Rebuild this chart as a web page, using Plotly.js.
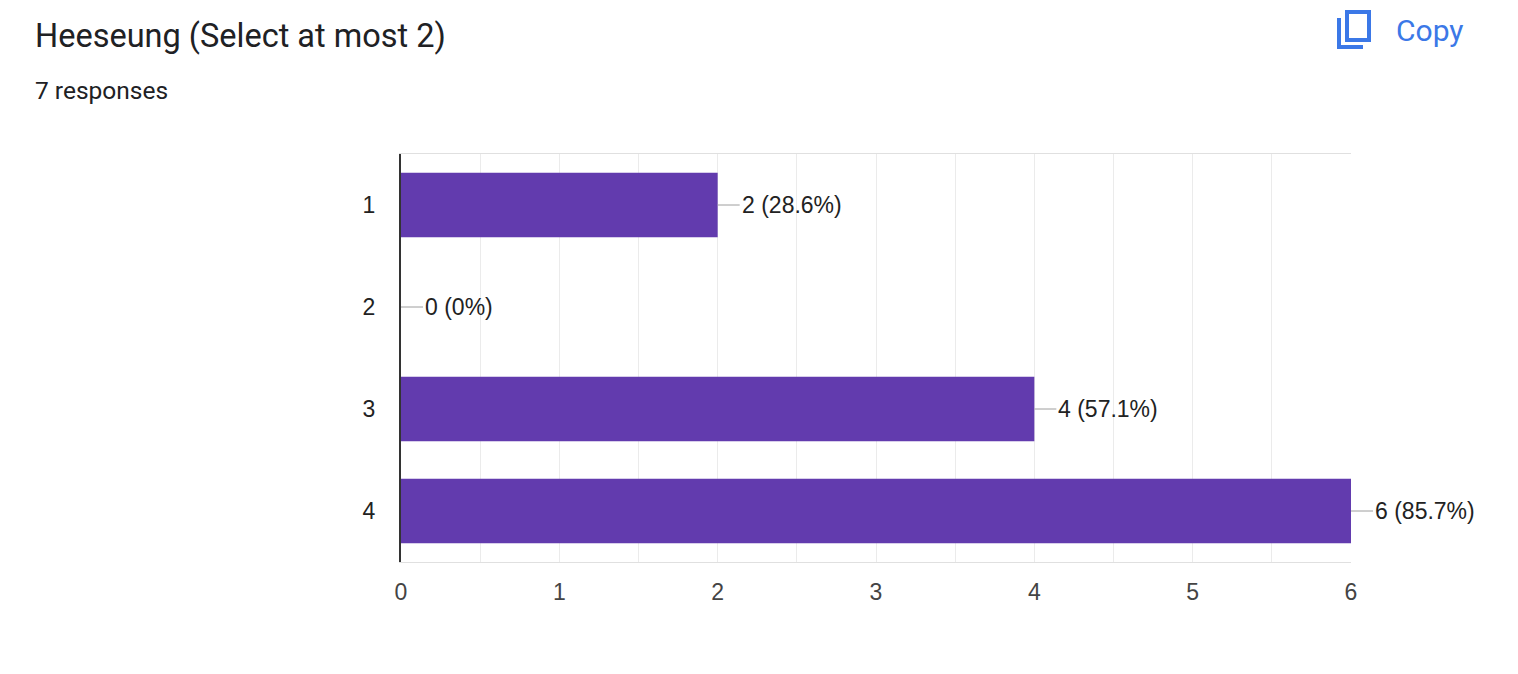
<!DOCTYPE html>
<html>
<head>
<meta charset="utf-8">
<script src="https://cdn.plot.ly/plotly-3.0.1.min.js"></script>
<style>
  html, body {margin:0; padding:0; background:#fff;}
  #chart {width:1518px; height:674px;}
</style>
</head>
<body>
<div id="chart"></div>
<script>
// data
const categories = ["1", "2", "3", "4"];
const counts = [2, 0, 4, 6];
const totalResponses = 7;
const pctLabels = ["28.6%", "0%", "57.1%", "85.7%"];

const W = 1518, H = 674;
const M = {l: 401, r: 167, t: 154, b: 112};
const PURPLE = "#623bae";
const BLUE = "#3b78e7";
const CHART_FONT = "Arial, 'Liberation Sans', sans-serif";

// pixel -> paper helpers for the header bits
const plotW = W - M.l - M.r, plotH = H - M.t - M.b;
const px = x => (x - M.l) / plotW;
const py = y => 1 - (y - M.t) / plotH;

const bars = {
    type: "bar",
    orientation: "h",
    x: counts,
    y: categories,
    marker: {color: PURPLE},
    width: 0.63,
    hoverinfo: "none"
};

// value labels with small leader lines (y is the category index)
const valueNotes = counts.map((c, i) => ({
    x: c, y: i, xref: "x", yref: "y",
    text: `${c} (${pctLabels[i]})`,
    showarrow: true, arrowhead: 0, arrowwidth: 1, arrowcolor: "#9e9e9e",
    ax: 22, ay: 0, xanchor: "left",
    font: {size: 23, family: CHART_FONT, color: "#222"}
}));

const headerNotes = [
    {
        x: px(33), y: py(36), xref: "paper", yref: "paper",
        xanchor: "left", yanchor: "middle", showarrow: false,
        text: "Heeseung (Select at most 2)",
        font: {size: 32.5, family: "Roboto, sans-serif", color: "#202124"}
    },
    {
        x: px(33), y: py(90), xref: "paper", yref: "paper",
        xanchor: "left", yanchor: "middle", showarrow: false,
        text: `${totalResponses} responses`,
        font: {size: 24.5, family: "Roboto, sans-serif", color: "#202124"}
    },
    {
        x: px(1394), y: py(31), xref: "paper", yref: "paper",
        xanchor: "left", yanchor: "middle", showarrow: false,
        text: "Copy",
        font: {size: 30, family: "Roboto, sans-serif", color: BLUE}
    }
];

// copy icon: back "L" and front rounded rectangle
const iconShapes = [
    {type: "path", xref: "paper", yref: "paper",
     path: `M ${px(1339)} ${py(18)} L ${px(1339)} ${py(47)} L ${px(1363)} ${py(47)}`,
     line: {color: BLUE, width: 4}},
    {type: "rect", xref: "paper", yref: "paper",
     x0: px(1347), x1: px(1369), y0: py(12), y1: py(40),
     line: {color: BLUE, width: 4}}
];

const layout = {
    width: W, height: H,
    margin: M,
    paper_bgcolor: "#fff", plot_bgcolor: "#fff",
    showlegend: false,
    font: {family: CHART_FONT, size: 23, color: "#222"},
    xaxis: {
        range: [0, 6],
        dtick: 1,
        showgrid: true, gridcolor: "#ebebeb", gridwidth: 1,
        minor: {dtick: 0.5, showgrid: true, gridcolor: "#ebebeb", gridwidth: 1},
        showline: true, linecolor: "#e0e0e0", linewidth: 1, mirror: true,
        zeroline: false,
        ticks: "",
        ticklabelstandoff: 9,
        tickfont: {size: 23, family: CHART_FONT, color: "#444"},
        fixedrange: true
    },
    yaxis: {
        type: "category",
        range: [3.5, -0.5],
        showgrid: false,
        showline: true, linecolor: "#333", linewidth: 2,
        zeroline: false,
        ticks: "",
        ticklabelstandoff: 19,
        tickfont: {size: 23, family: CHART_FONT, color: "#222"},
        fixedrange: true
    },
    annotations: valueNotes.concat(headerNotes),
    shapes: iconShapes
};

Plotly.newPlot("chart", [bars], layout, {displayModeBar: false, staticPlot: true});
</script>
</body>
</html>
